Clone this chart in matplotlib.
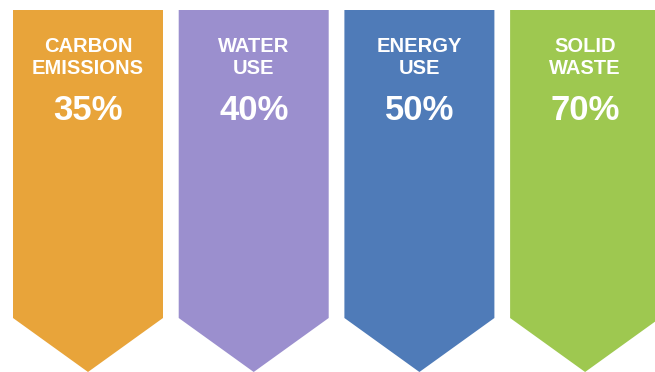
import matplotlib.pyplot as plt
from matplotlib.patches import Polygon

labels = ["CARBON\nEMISSIONS", "WATER\nUSE", "ENERGY\nUSE", "SOLID\nWASTE"]
values = [35, 40, 50, 70]
colors = ["#E8A43A", "#9B8FCE", "#4F7BB8", "#9EC850"]

fig = plt.figure(figsize=(6.55, 3.72), dpi=100)
ax = fig.add_axes([0, 0, 1, 1])
ax.set_xlim(0, 655)
ax.set_ylim(372, 0)
ax.axis("off")

left0 = 13
width = 150
step = 165.7
top = 10
shoulder = 318
tip = 372

for i, (lab, val, c) in enumerate(zip(labels, values, colors)):
    x0 = left0 + i * step
    x1 = x0 + width
    xm = (x0 + x1) / 2
    pts = [(x0, top), (x1, top), (x1, shoulder), (xm, tip), (x0, shoulder)]
    ax.add_patch(Polygon(pts, closed=True, facecolor=c, edgecolor="none"))
    ax.text(xm, 57.5, lab, ha="center", va="center", color="white",
            fontsize=14.5, fontweight="bold", family="Liberation Sans", linespacing=1.15)
    ax.text(xm, 111, f"{val}%", ha="center", va="center", color="white",
            fontsize=25, fontweight="bold", family="Liberation Sans")

fig.savefig("out.png", dpi=100)
